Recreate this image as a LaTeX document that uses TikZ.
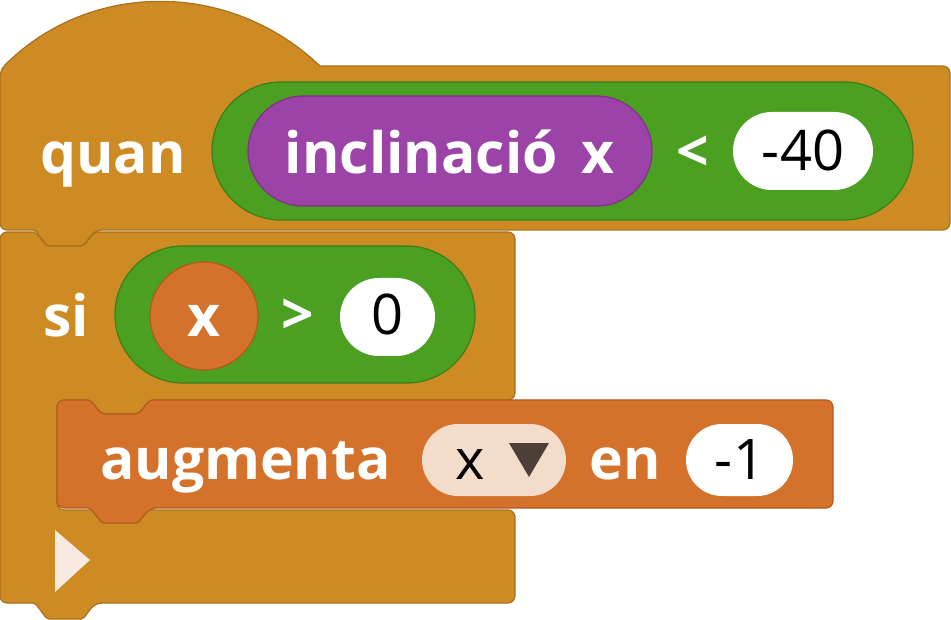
\documentclass[tikz,border=0pt]{standalone}
\usepackage{fontspec}
\setmainfont{Open Sans}
\begin{document}
\begin{tikzpicture}[x=1pt,y=-1pt,
  ev/.style={fill=evc,draw=evd,line width=1.2pt,rounded corners=7pt},
  gr/.style={fill=grc,draw=grd,line width=1.2pt},
  wt/.style={font=\bfseries\fontsize{57}{60}\selectfont,text=white,inner sep=0,anchor=base},
  num/.style={font=\fontsize{56}{60}\selectfont,text=black,inner sep=0,anchor=base}]
\definecolor{evc}{HTML}{CF8B23}\definecolor{evd}{HTML}{A8711C}
\definecolor{grc}{HTML}{4BA022}\definecolor{grd}{HTML}{3B7F1A}
\definecolor{orc}{HTML}{D4712A}\definecolor{ord}{HTML}{B05A1F}
\definecolor{puc}{HTML}{9C43A8}\definecolor{pud}{HTML}{7E3388}
\definecolor{ddc}{HTML}{F4DCCB}\definecolor{tri}{HTML}{4D3F38}
\useasboundingbox (0,0) rectangle (951,620);
% hat block
\draw[ev] (0,230) -- (0,70) [sharp corners] .. controls (90,-20) and (230,-20) .. (320,66) [rounded corners=7pt] -- (950,66) -- (950,230) -- (95,230) [rounded corners=2pt]-- (83,246) -- (47,246) -- (35,230) [rounded corners=7pt] -- cycle;
% C block
\draw[ev] (0,232) [rounded corners=2pt] -- (35,232) -- (47,246) -- (83,246) -- (95,232) [rounded corners=7pt] -- (515,232) -- (515,400) -- (150,400) [rounded corners=2pt] -- (138,414) -- (102,414) -- (90,400) [rounded corners=7pt] -- (57,400) -- (57,510) -- (515,510) -- (515,603) -- (95,603) [rounded corners=2pt] -- (83,619) -- (47,619) -- (35,603) [rounded corners=7pt] -- (0,603) -- cycle;
\fill[ddc!60!white] (55,530) -- (90,560) -- (55,592) -- cycle;
% augmenta block
\draw[fill=orc,draw=ord,line width=1.2pt,rounded corners=7pt] (57,400) [rounded corners=2pt] -- (90,400) -- (102,414) -- (138,414) -- (150,400) [rounded corners=7pt] -- (833,400) -- (833,508) -- (150,508) [rounded corners=2pt] -- (138,523) -- (102,523) -- (90,508) [rounded corners=7pt] -- (57,508) -- cycle;
% hat contents
\node[wt,anchor=base west] (quan) at (40,174) {quan};
\draw[gr,rounded corners=69pt] (212,82) rectangle (913,220);
\draw[fill=puc,draw=pud,line width=1.2pt,rounded corners=55pt] (248,96) rectangle (652,206);
\node[wt] (incl) at (450,174) {inclinació\, x};
\node[wt] (lt) at (693,172) {<};
\draw[fill=white,draw=none,rounded corners=39pt] (733,112) rectangle (873,190);
\node[num] (n40) at (803,171) {-40};
% si contents
\node[wt,anchor=base west] (si) at (43,337) {si};
\draw[gr,rounded corners=68pt] (115,246) rectangle (475,383);
\draw[fill=orc,draw=ord,line width=1.2pt] (204,316) circle (54);
\node[wt] (x) at (204,337) {x};
\node[wt] (gt) at (298,335) {>};
\draw[fill=white,draw=none,rounded corners=39pt] (340,278) rectangle (435,356);
\node[num] (n0) at (388,335) {0};
% augmenta contents
\node[wt,anchor=base west] (aug) at (100,479) {augmenta};
\draw[fill=ddc,draw=none,rounded corners=36pt] (422,424) rectangle (566,496);
\node[num] (dx) at (470,479) {x};
\fill[tri] (509,443) -- (549,443) -- (529,477) -- cycle;
\node[wt] (en) at (625,479) {en};
\draw[fill=white,draw=none,rounded corners=36pt] (686,424) rectangle (793,496);
\node[num] (n1) at (740,479) {-1};
\end{tikzpicture}
\end{document}
